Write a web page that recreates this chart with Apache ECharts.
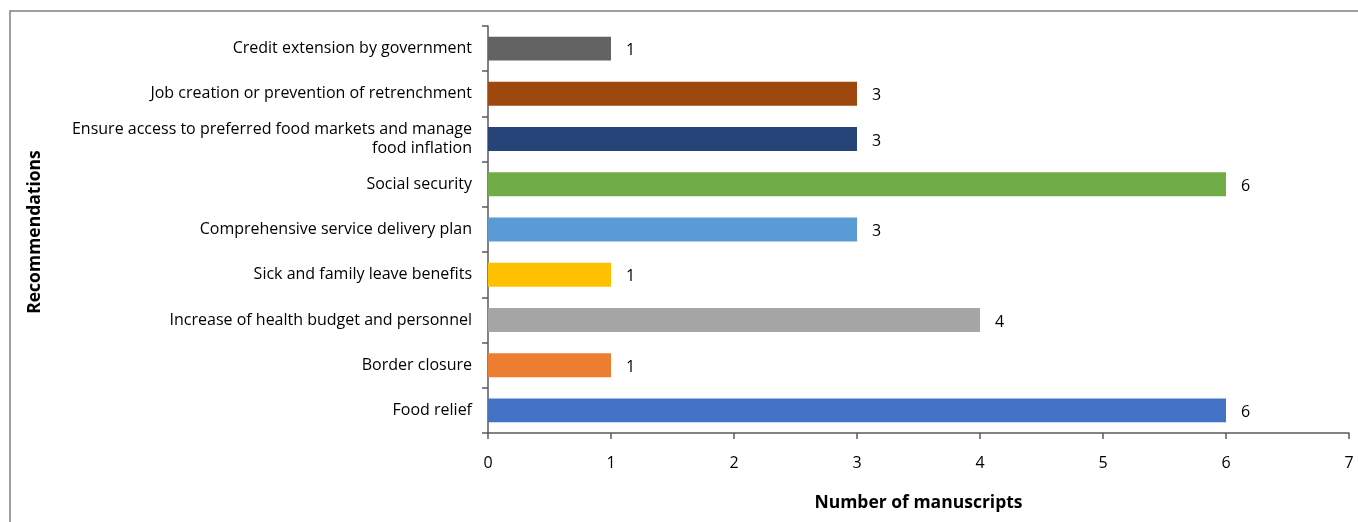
<!DOCTYPE html>
<html>
<head>
<meta charset="utf-8">
<script src="https://cdn.jsdelivr.net/npm/echarts@6/dist/echarts.min.js"></script>
<style>
html,body{margin:0;padding:0;background:#fff;}
#chart{width:1358px;height:522px;}
</style>
</head>
<body>
<div id="chart"></div>
<script>
// Bottom-to-top order (category axis starts at bottom)
const categories = [
  'Food relief',
  'Border closure',
  'Increase of health budget and personnel',
  'Sick and family leave benefits',
  'Comprehensive service delivery plan',
  'Social security',
  'Ensure access to preferred food markets and manage\nfood inflation',
  'Job creation or prevention of retrenchment',
  'Credit extension by government'
];
const values = [6, 1, 4, 1, 3, 6, 3, 3, 1];
const barColors = ['#4472C4', '#ED7D31', '#A5A5A5', '#FFC000', '#5B9BD5', '#70AD47', '#264478', '#9E480E', '#636363'];
const xTicks = [0, 1, 2, 3, 4, 5, 6, 7];

const FONT = '"Open Sans"';
const chart = echarts.init(document.getElementById('chart'), null, {renderer: 'canvas'});
chart.setOption({
  animation: false,
  backgroundColor: '#fff',
  textStyle: {fontFamily: FONT},
  graphic: [{
    type: 'rect',
    shape: {x: 10, y: 11, width: 1400, height: 600},
    style: {fill: 'none', stroke: '#7f7f7f', lineWidth: 1.5},
    silent: true, z: -1
  }, {
    type: 'text',
    x: 35, y: 232, rotation: Math.PI / 2,
    style: {text: 'Recommendations', font: 'bold 17.5px ' + FONT, fill: '#000', align: 'center', verticalAlign: 'middle'}
  }],
  grid: {left: 488, right: 9, top: 26, bottom: 89, containLabel: false},
  xAxis: {
    type: 'value', min: 0, max: 7, interval: 1,
    name: 'Number of manuscripts', nameLocation: 'middle', nameGap: 61,
    nameTextStyle: {fontFamily: FONT, fontWeight: 'bold', fontSize: 17.5, color: '#000'},
    axisLine: {show: true, lineStyle: {color: '#595959', width: 1.5}},
    axisTick: {show: true, length: 6, inside: false, lineStyle: {color: '#595959', width: 1.5}},
    axisLabel: {color: '#000', fontSize: 16, margin: 22, fontFamily: FONT,
      formatter: v => xTicks.includes(v) ? String(v) : ''},
    splitLine: {show: false}
  },
  yAxis: {
    type: 'category', data: categories,
    axisLine: {show: true, lineStyle: {color: '#595959', width: 1.5}},
    axisTick: {show: true, length: 6, lineStyle: {color: '#595959', width: 1.5}},
    axisLabel: {color: '#000', fontSize: 16, margin: 16, lineHeight: 19, fontFamily: FONT, align: 'right'}
  },
  series: [{
    type: 'bar',
    data: values.map((v, i) => ({value: v, itemStyle: {color: barColors[i]}})),
    barCategoryGap: '47%',
    label: {show: true, position: 'right', distance: 15, color: '#000', fontSize: 16, fontFamily: FONT, offset: [0, 2]}
  }]
});
</script>
</body>
</html>
